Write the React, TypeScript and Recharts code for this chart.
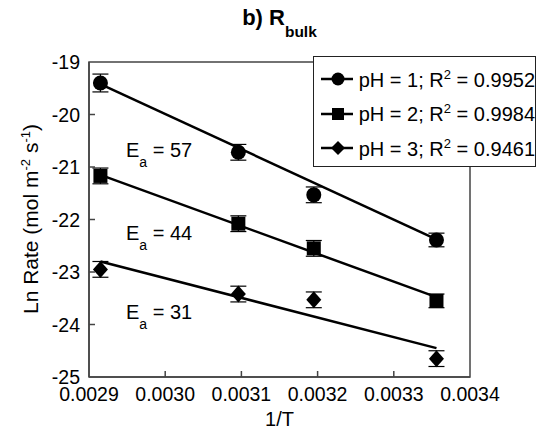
import { ComposedChart, ErrorBar, ReferenceArea, Scatter, XAxis, YAxis } from "recharts";

const invT = [0.002915, 0.003096, 0.003195, 0.003356];

const ph1 = [-19.4, -20.72, -21.53, -22.39];
const ph2 = [-21.17, -22.08, -22.55, -23.55];
const ph3 = [-22.95, -23.42, -23.53, -24.65];

const err1 = [0.17, 0.15, 0.15, 0.13];
const err2 = [0.15, 0.15, 0.15, 0.13];
const err3 = [0.15, 0.15, 0.15, 0.15];

// linear fit end points (first and last 1/T)
const fitX = [0.002915, 0.003356];
const fit1 = [-19.42, -22.38];
const fit2 = [-21.15, -23.48];
const fit3 = [-22.8, -24.45];

const xTicks = [0.0029, 0.003, 0.0031, 0.0032, 0.0033, 0.0034];
const yTicks = [-25, -24, -23, -22, -21, -20, -19];

const legendLabels = ["pH = 1; R", "pH = 2; R", "pH = 3; R"];
const legendR2 = ["0.9952", "0.9984", "0.9461"];
const eaLabels = ["57", "44", "31"];

const pts = (ys: number[], errs: number[]) => invT.map((x, i) => ({ x, y: ys[i], err: errs[i] }));
const fit = (ys: number[]) => fitX.map((x, i) => ({ x, y: ys[i] }));

const FONT = "'Liberation Sans', Arial, sans-serif";
const AXIS = "#444";

const Circle = (p: any) => <circle cx={p.cx} cy={p.cy} r={7.5} fill="#000" />;
const Square = (p: any) => <rect x={p.cx - 7} y={p.cy - 7} width={14} height={14} fill="#000" />;
const Diamond = (p: any) => (
  <path d={`M${p.cx},${p.cy - 8.5}L${p.cx + 7.5},${p.cy}L${p.cx},${p.cy + 8.5}L${p.cx - 7.5},${p.cy}Z`} fill="#000" />
);
const NoDot = () => null;

const YTick = (p: any) => (
  <g>
    {p.payload.value > -25 && p.payload.value < -19 && (
      <line x1={p.x + 9} x2={p.x + 15} y1={p.y} y2={p.y} stroke={AXIS} strokeWidth={1.5} />
    )}
    <text x={p.x} y={p.y} textAnchor="end" dominantBaseline="central" fontSize={19.5} fontFamily={FONT} fill="#000">
      {String(p.payload.value)}
    </text>
  </g>
);

const XTick = (p: any) => (
  <g>
    {p.index > 0 && p.index < xTicks.length - 1 && (
      <line x1={p.x} x2={p.x} y1={p.y - 8} y2={p.y - 14} stroke={AXIS} strokeWidth={1.5} />
    )}
    <text x={p.x} y={p.y + 16} textAnchor="middle" fontSize={19.5} fontFamily={FONT} fill="#000">
      {Number(p.payload.value).toFixed(4)}
    </text>
  </g>
);

const markers = [Circle, Square, Diamond];

const LegendMark = ({ i }: { i: number }) => (
  <svg width={34} height={20} style={{ verticalAlign: "middle" }}>
    <line x1={0} x2={34} y1={10} y2={10} stroke="#000" strokeWidth={2.5} />
    {i === 0 && <circle cx={17} cy={10} r={6.5} fill="#000" />}
    {i === 1 && <rect x={11} y={4} width={12} height={12} fill="#000" />}
    {i === 2 && <path d="M17,3L24,10L17,17L10,10Z" fill="#000" />}
  </svg>
);

const Ea = ({ top, value }: { top: number; value: string }) => (
  <div style={{ position: "absolute", left: 126, top, fontSize: 20, fontFamily: FONT, lineHeight: "20px", whiteSpace: "nowrap" }}>
    E<span style={{ position: "relative", top: 10, fontSize: 14 }}>a</span> = {value}
  </div>
);

export default function App() {
  return (
    <div style={{ position: "absolute", left: 0, top: 0, width: 538, height: 432, background: "#fff", fontFamily: FONT }}>
      <ComposedChart width={538} height={432} margin={{ top: 62, right: 68, bottom: 0, left: 0 }}>
        <XAxis
          type="number"
          dataKey="x"
          domain={[0.0029, 0.0034]}
          ticks={xTicks}
          interval={0}
          allowDataOverflow
          height={55}
          tickSize={0}
          tickMargin={8}
          tickLine={false}
          tick={<XTick />}
          axisLine={{ stroke: AXIS, strokeWidth: 1.5 }}
        />
        <YAxis
          type="number"
          dataKey="y"
          domain={[-25, -19]}
          ticks={yTicks}
          interval={0}
          allowDataOverflow
          width={89}
          tickSize={0}
          tickMargin={9}
          tickLine={false}
          tick={<YTick />}
          axisLine={{ stroke: AXIS, strokeWidth: 1.5 }}
        />
        <ReferenceArea x1={0.0029} x2={0.0034} y1={-25} y2={-19} fill="none" fillOpacity={0} stroke={AXIS} strokeWidth={1.5} />
        <Scatter data={fit(fit1)} line={{ stroke: "#000", strokeWidth: 2.5 }} shape={NoDot} isAnimationActive={false} />
        <Scatter data={fit(fit2)} line={{ stroke: "#000", strokeWidth: 2.5 }} shape={NoDot} isAnimationActive={false} />
        <Scatter data={fit(fit3)} line={{ stroke: "#000", strokeWidth: 2.5 }} shape={NoDot} isAnimationActive={false} />
        {[pts(ph1, err1), pts(ph2, err2), pts(ph3, err3)].map((d, i) => (
          <Scatter key={i} data={d} shape={markers[i]} isAnimationActive={false}>
            <ErrorBar dataKey="err" direction="y" width={8} stroke="#000" strokeWidth={1.2} />
          </Scatter>
        ))}
      </ComposedChart>

      <div
        style={{
          position: "absolute",
          left: 0,
          width: 559,
          top: 5,
          textAlign: "center",
          fontWeight: "bold",
          fontSize: 22,
          whiteSpace: "nowrap",
        }}
      >
        b) R<span style={{ position: "relative", top: 12, fontSize: 15.5 }}>bulk</span>
      </div>

      <div
        style={{
          position: "absolute",
          left: 26 - 150,
          top: 219 - 12,
          width: 300,
          height: 24,
          lineHeight: "24px",
          textAlign: "center",
          fontSize: 21,
          transform: "rotate(-90deg)",
          whiteSpace: "nowrap",
        }}
      >
        Ln Rate (mol m<sup style={{ fontSize: 13 }}>-2</sup> s<sup style={{ fontSize: 13 }}>-1</sup>)
      </div>

      <div style={{ position: "absolute", left: 0, width: 559, top: 408, textAlign: "center", fontSize: 20 }}>1/T</div>

      {eaLabels.map((v, i) => (
        <Ea key={i} value={v} top={[140, 223, 302][i]} />
      ))}

      <div
        style={{
          position: "absolute",
          left: 313,
          top: 56,
          width: 223,
          height: 111,
          border: "1.5px solid #222",
          background: "#fff",
          boxSizing: "border-box",
          paddingTop: 5,
        }}
      >
        {legendLabels.map((l, i) => (
          <div key={i} style={{ height: 34.5, display: "flex", alignItems: "center", paddingLeft: 7, fontSize: 20, whiteSpace: "nowrap" }}>
            <LegendMark i={i} />
            <span style={{ marginLeft: 6 }}>
              {l}
              <sup style={{ fontSize: 13 }}>2</sup> = {legendR2[i]}
            </span>
          </div>
        ))}
      </div>
    </div>
  );
}
